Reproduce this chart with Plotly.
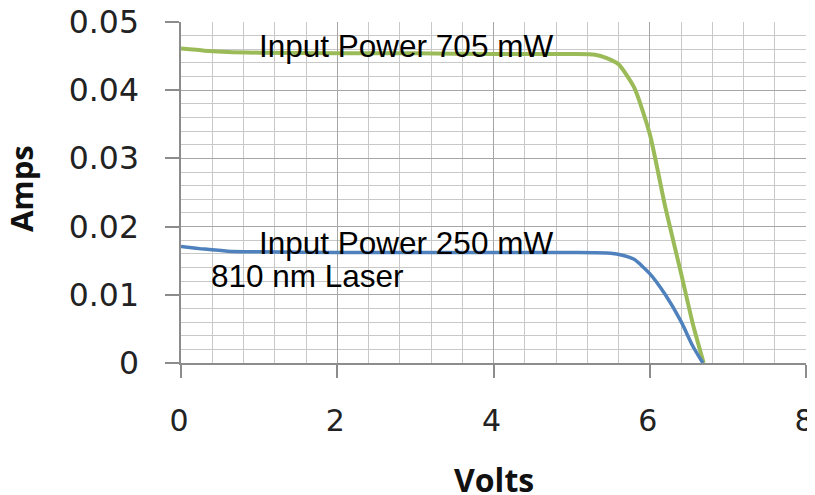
import plotly.graph_objects as go

# Data
volts_705 = [0, 0.3, 0.6, 1.0, 2.0, 3.0, 4.0, 5.0, 5.3, 5.45, 5.6, 5.8, 6.0, 6.2, 6.4, 6.55, 6.69]
amps_705 = [0.0461, 0.0458, 0.0456, 0.0455, 0.0454, 0.0454, 0.0453, 0.0453, 0.0452, 0.0447, 0.0438, 0.0404, 0.0336, 0.0228, 0.0132, 0.0058, 0.0]

volts_250 = [0, 0.3, 0.6, 1.0, 2.0, 3.0, 4.0, 5.0, 5.5, 5.65, 5.8, 6.0, 6.2, 6.4, 6.55, 6.68]
amps_250 = [0.0171, 0.0167, 0.0164, 0.0163, 0.0162, 0.0162, 0.0162, 0.0162, 0.0161, 0.0158, 0.0152, 0.0131, 0.0100, 0.0061, 0.0025, 0.0]

x_ticks = [0, 2, 4, 6, 8]
y_ticks = [0, 0.01, 0.02, 0.03, 0.04, 0.05]
y_tick_labels = ["0", "0.01", "0.02", "0.03", "0.04", "0.05"]

labels = ["Input Power 705 mW", "Input Power 250 mW", "810 nm Laser"]
label_x = [0.97, 0.97, 0.36]
label_y = [0.0465, 0.0176, 0.0128]

fig = go.Figure()
fig.add_trace(go.Scatter(x=volts_705, y=amps_705, mode="lines",
                         line=dict(color="#9BBB59", width=4, shape="spline", smoothing=0.6),
                         showlegend=False))
fig.add_trace(go.Scatter(x=volts_250, y=amps_250, mode="lines",
                         line=dict(color="#4F81BD", width=3.5, shape="spline", smoothing=0.6),
                         showlegend=False))

for t, xx, yy in zip(labels, label_x, label_y):
    fig.add_annotation(x=xx, y=yy, text=t, showarrow=False, xanchor="left", yanchor="middle",
                       font=dict(family="Liberation Sans, Arial", size=31.5, color="#000000"))

# Axis titles
fig.add_annotation(x=0.5, xref="paper", y=-0.342, yref="paper", text="<b>Volts</b>", showarrow=False,
                   xanchor="center", yanchor="middle",
                   font=dict(family="Open Sans", size=32, color="#111111"))
fig.add_annotation(x=-0.256, xref="paper", y=0.51, yref="paper", text="<b>Amps</b>", showarrow=False,
                   textangle=-90, xanchor="center", yanchor="middle",
                   font=dict(family="Open Sans", size=31, color="#111111"))

fig.update_layout(
    width=815, height=495,
    margin=dict(l=173, r=17, t=14, b=140, autoexpand=False),
    paper_bgcolor="white", plot_bgcolor="white",
    xaxis=dict(range=[0, 8], tickvals=x_ticks, ticktext=[str(v) for v in x_ticks],
               showgrid=True, gridcolor="#a6a6a6", gridwidth=1,
               minor=dict(dtick=0.4, tick0=0, showgrid=True, gridcolor="#c8c8c8", gridwidth=1),
               showline=True, linecolor="#8c8c8c", linewidth=1.5,
               ticks="outside", ticklen=13, tickcolor="#8c8c8c", tickwidth=1.5,
               ticklabelstandoff=17, ticklabelshift=-2, ticklabeloverflow="allow", automargin=False,
               tickfont=dict(family="DejaVu Sans", size=30, color="#222222"),
               zeroline=False, fixedrange=True),
    yaxis=dict(range=[0, 0.05], tickvals=y_ticks, ticktext=y_tick_labels,
               showgrid=True, gridcolor="#a6a6a6", gridwidth=1,
               minor=dict(dtick=0.002, tick0=0, showgrid=True, gridcolor="#c8c8c8", gridwidth=1),
               showline=True, linecolor="#8c8c8c", linewidth=1.5,
               ticks="outside", ticklen=14, tickcolor="#8c8c8c", tickwidth=1.5,
               ticklabelstandoff=20, ticklabeloverflow="allow", automargin=False,
               tickfont=dict(family="DejaVu Sans", size=31.5, color="#222222"),
               zeroline=False, fixedrange=True),
)

fig.write_html("out.html")
